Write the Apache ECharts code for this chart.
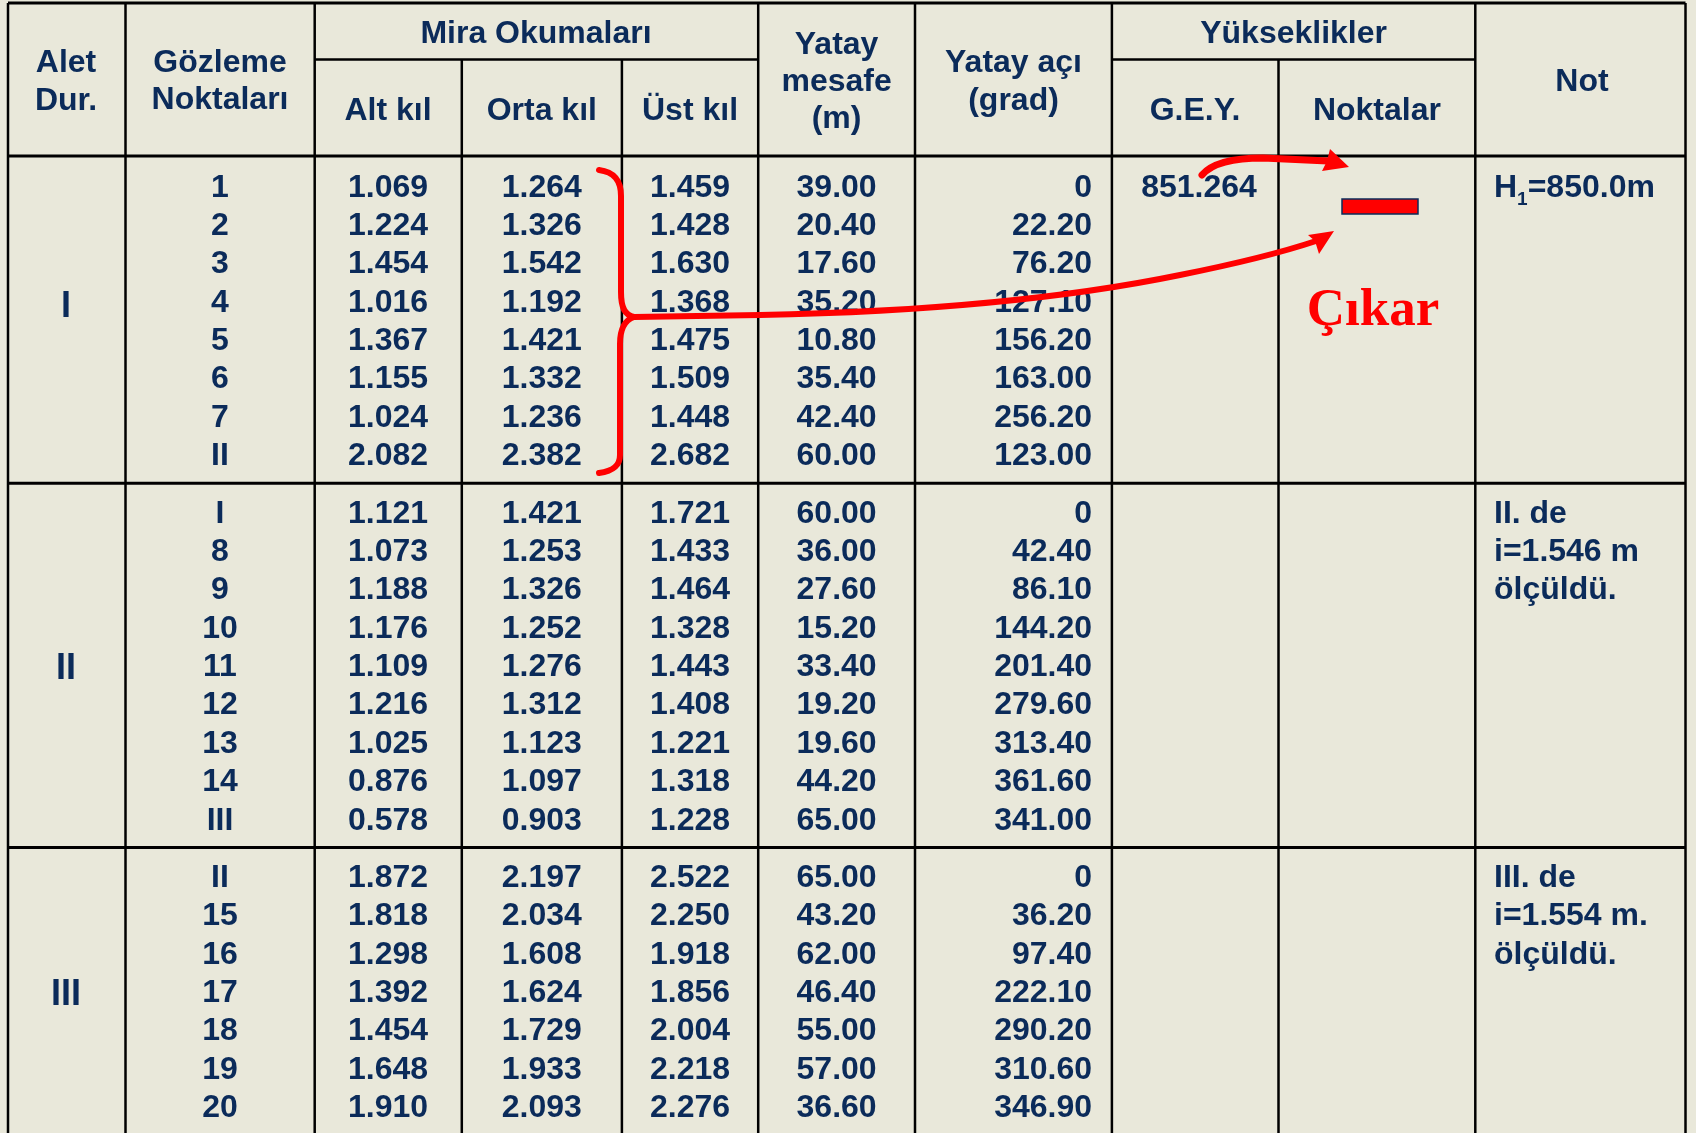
<!DOCTYPE html>
<html>
<head>
<meta charset="utf-8">
<title>Mira Okumaları</title>
<script src="https://cdn.jsdelivr.net/npm/echarts@6/dist/echarts.min.js"></script>
<style>
  html, body { margin: 0; padding: 0; background: #E9E8DA; }
  #main { width: 1696px; height: 1133px; }
</style>
</head>
<body>
<div id="main"></div>
<script>
// --- veriler (data) ---
const stationNames = ['I', 'II', 'III'];
const pointNames = [
  ['1', '2', '3', '4', '5', '6', '7', 'II'],
  ['I', '8', '9', '10', '11', '12', '13', '14', 'III'],
  ['II', '15', '16', '17', '18', '19', '20']
];
const altKil = [
  [1.069, 1.224, 1.454, 1.016, 1.367, 1.155, 1.024, 2.082],
  [1.121, 1.073, 1.188, 1.176, 1.109, 1.216, 1.025, 0.876, 0.578],
  [1.872, 1.818, 1.298, 1.392, 1.454, 1.648, 1.910]
];
const ortaKil = [
  [1.264, 1.326, 1.542, 1.192, 1.421, 1.332, 1.236, 2.382],
  [1.421, 1.253, 1.326, 1.252, 1.276, 1.312, 1.123, 1.097, 0.903],
  [2.197, 2.034, 1.608, 1.624, 1.729, 1.933, 2.093]
];
const ustKil = [
  [1.459, 1.428, 1.630, 1.368, 1.475, 1.509, 1.448, 2.682],
  [1.721, 1.433, 1.464, 1.328, 1.443, 1.408, 1.221, 1.318, 1.228],
  [2.522, 2.250, 1.918, 1.856, 2.004, 2.218, 2.276]
];
const yatayMesafe = [
  [39.00, 20.40, 17.60, 35.20, 10.80, 35.40, 42.40, 60.00],
  [60.00, 36.00, 27.60, 15.20, 33.40, 19.20, 19.60, 44.20, 65.00],
  [65.00, 43.20, 62.00, 46.40, 55.00, 57.00, 36.60]
];
const yatayAci = [
  [0, 22.20, 76.20, 127.10, 156.20, 163.00, 256.20, 123.00],
  [0, 42.40, 86.10, 144.20, 201.40, 279.60, 313.40, 361.60, 341.00],
  [0, 36.20, 97.40, 222.10, 290.20, 310.60, 346.90]
];
const gey = [851.264, null, null];
const notes = [
  ['{b|H}{s|1}{b|=850.0m}'],
  ['II. de', 'i=1.546 m', 'ölçüldü.'],
  ['III. de', 'i=1.554 m.', 'ölçüldü.']
];
const topHeaders = ['Mira Okumaları', 'Yükseklikler'];
const subHeaders = ['Alt kıl', 'Orta kıl', 'Üst kıl', 'G.E.Y.', 'Noktalar'];

// --- yerleşim (layout) ---
const colEdges = [8, 125.5, 314.7, 461.8, 621.9, 758.2, 915, 1111.9, 1278.5, 1475.3, 1685.5];
const groupStart = [0, 8.5, 18];
const stationLabelV = [3.1, 12.55, 21.05];
const headerTop = -4.77, headerMid = -3.30, headerBottom = -0.78;
const groupLines = [7.75, 17.25];
const textShift = 0.05; // metin satırlarını biraz aşağı al
const navy = '#0B2B5A';
const red = '#FF0000';
const fontData = 'bold 32px "Liberation Sans", Arial, sans-serif';
const fontStation = 'bold 36px "Liberation Sans", Arial, sans-serif';

const cells = [];
function addText(x, v, text, align, font, rich) {
  cells.push({ x: x, v: v + textShift, text: text, align: align, font: font || fontData, rich: rich });
}

// başlık (header)
[
  [66, ['Alet', 'Dur.'], [-3.24, -2.26]],
  [220, ['Gözleme', 'Noktaları'], [-3.24, -2.29]],
  [836.6, ['Yatay', 'mesafe', '(m)'], [-3.72, -2.76, -1.78]],
  [1013.5, ['Yatay açı', '(grad)'], [-3.24, -2.26]],
  [1582, ['Not'], [-2.76]]
].forEach(function (h) {
  h[1].forEach(function (t, i) { addText(h[0], h[2][i], t, 'center'); });
});
addText(536, -4.01, topHeaders[0], 'center');
addText(1293.6, -4.01, topHeaders[1], 'center');
[388, 541.8, 690, 1195, 1376.9].forEach(function (x, i) {
  addText(x, -2.0, subHeaders[i], 'center');
});

// gövde (body)
const subRich = {
  b: { font: fontData, fill: navy },
  s: { font: 'bold 19px "Liberation Sans", Arial, sans-serif', fill: navy, verticalAlign: 'bottom', lineHeight: 42 }
};
stationNames.forEach(function (st, g) {
  addText(66, stationLabelV[g], st, 'center', fontStation);
  pointNames[g].forEach(function (p, i) {
    const v = groupStart[g] + i;
    addText(220, v, p, 'center');
    addText(388, v, altKil[g][i].toFixed(3), 'center');
    addText(541.8, v, ortaKil[g][i].toFixed(3), 'center');
    addText(690, v, ustKil[g][i].toFixed(3), 'center');
    addText(836.6, v, yatayMesafe[g][i].toFixed(2), 'center');
    addText(1092, v, yatayAci[g][i] === 0 ? '0' : yatayAci[g][i].toFixed(2), 'right');
  });
  if (gey[g] !== null) addText(1199, groupStart[g], gey[g].toFixed(3), 'center');
  notes[g].forEach(function (t, i) {
    addText(1494, groupStart[g] + i, t, 'left', fontData, t.indexOf('{') === 0 ? subRich : null);
  });
});

// çizgiler (lines)
const lines = [];
[headerTop, headerBottom, groupLines[0], groupLines[1]].forEach(function (v) {
  lines.push([colEdges[0], v, colEdges[10], v, 3]);
});
lines.push([colEdges[2], headerMid, colEdges[5], headerMid, 2.5]);
lines.push([colEdges[7], headerMid, colEdges[9], headerMid, 2.5]);
colEdges.forEach(function (x, i) {
  const top = (i === 3 || i === 4 || i === 8) ? headerMid : headerTop;
  lines.push([x, top, x, 25.5, 2.5]);
});

// kırmızı işaretler (annotations, pixel space)
function annotations() {
  const thick = function (w) {
    return { stroke: red, lineWidth: w, fill: null, lineCap: 'round', lineJoin: 'round' };
  };
  return {
    type: 'group',
    children: [
      {
        type: 'path',
        shape: { pathData: 'M 599 170 C 614 172 621 180 621 196 L 621 292 C 621 308 625 315 634 317 C 625 320 620 328 620 344 L 620 455 C 620 466 613 471 599 473' },
        style: thick(6)
      },
      {
        type: 'path',
        shape: { pathData: 'M 634 317 L 760 315 Q 1010 310 1180 275 Q 1265 258 1316 241' },
        style: thick(6)
      },
      {
        type: 'polygon',
        shape: { points: [[1334, 231], [1308, 235], [1315, 241], [1319, 254]] },
        style: { fill: red }
      },
      {
        type: 'path',
        shape: { pathData: 'M 1202 175 C 1212 163 1235 158 1263 158 L 1328 161' },
        style: thick(7)
      },
      {
        type: 'polygon',
        shape: { points: [[1330, 149], [1349, 167], [1322, 171], [1327, 161]] },
        style: { fill: red }
      },
      {
        type: 'rect',
        shape: { x: 1342, y: 199, width: 76, height: 15 },
        style: { fill: red, stroke: navy, lineWidth: 1.5 }
      },
      {
        type: 'text',
        x: 1373,
        y: 311,
        style: {
          text: 'Çıkar',
          font: 'bold 53px "Liberation Serif", "Times New Roman", serif',
          fill: red,
          align: 'center',
          verticalAlign: 'middle'
        }
      }
    ]
  };
}

const chart = echarts.init(document.getElementById('main'));
chart.setOption({
  backgroundColor: '#E9E8DA',
  animation: false,
  grid: { left: 0, right: 0, top: 0, bottom: 0 },
  xAxis: { type: 'value', min: 0, max: 1696, show: false },
  yAxis: { type: 'value', min: -4.85, max: 24.694, inverse: true, show: false },
  series: [
    {
      type: 'custom',
      silent: true,
      clip: false,
      encode: { x: [0, 2], y: [1, 3] },
      data: lines,
      renderItem: function (params, api) {
        const a = api.coord([api.value(0), api.value(1)]);
        const b = api.coord([api.value(2), api.value(3)]);
        return {
          type: 'line',
          shape: { x1: a[0], y1: a[1], x2: b[0], y2: b[1] },
          style: { stroke: '#000', lineWidth: api.value(4) }
        };
      }
    },
    {
      type: 'custom',
      silent: true,
      clip: false,
      data: cells.map(function (c) { return [c.x, c.v]; }),
      renderItem: function (params, api) {
        const c = cells[params.dataIndex];
        const p = api.coord([api.value(0), api.value(1)]);
        const style = {
          text: c.text,
          font: c.font,
          fill: navy,
          align: c.align,
          verticalAlign: 'middle'
        };
        if (c.rich) style.rich = c.rich;
        return { type: 'text', x: p[0], y: p[1], style: style };
      }
    },
    {
      type: 'custom',
      silent: true,
      clip: false,
      z: 10,
      data: [[0, 0]],
      renderItem: function () { return annotations(); }
    }
  ]
});
</script>
</body>
</html>
